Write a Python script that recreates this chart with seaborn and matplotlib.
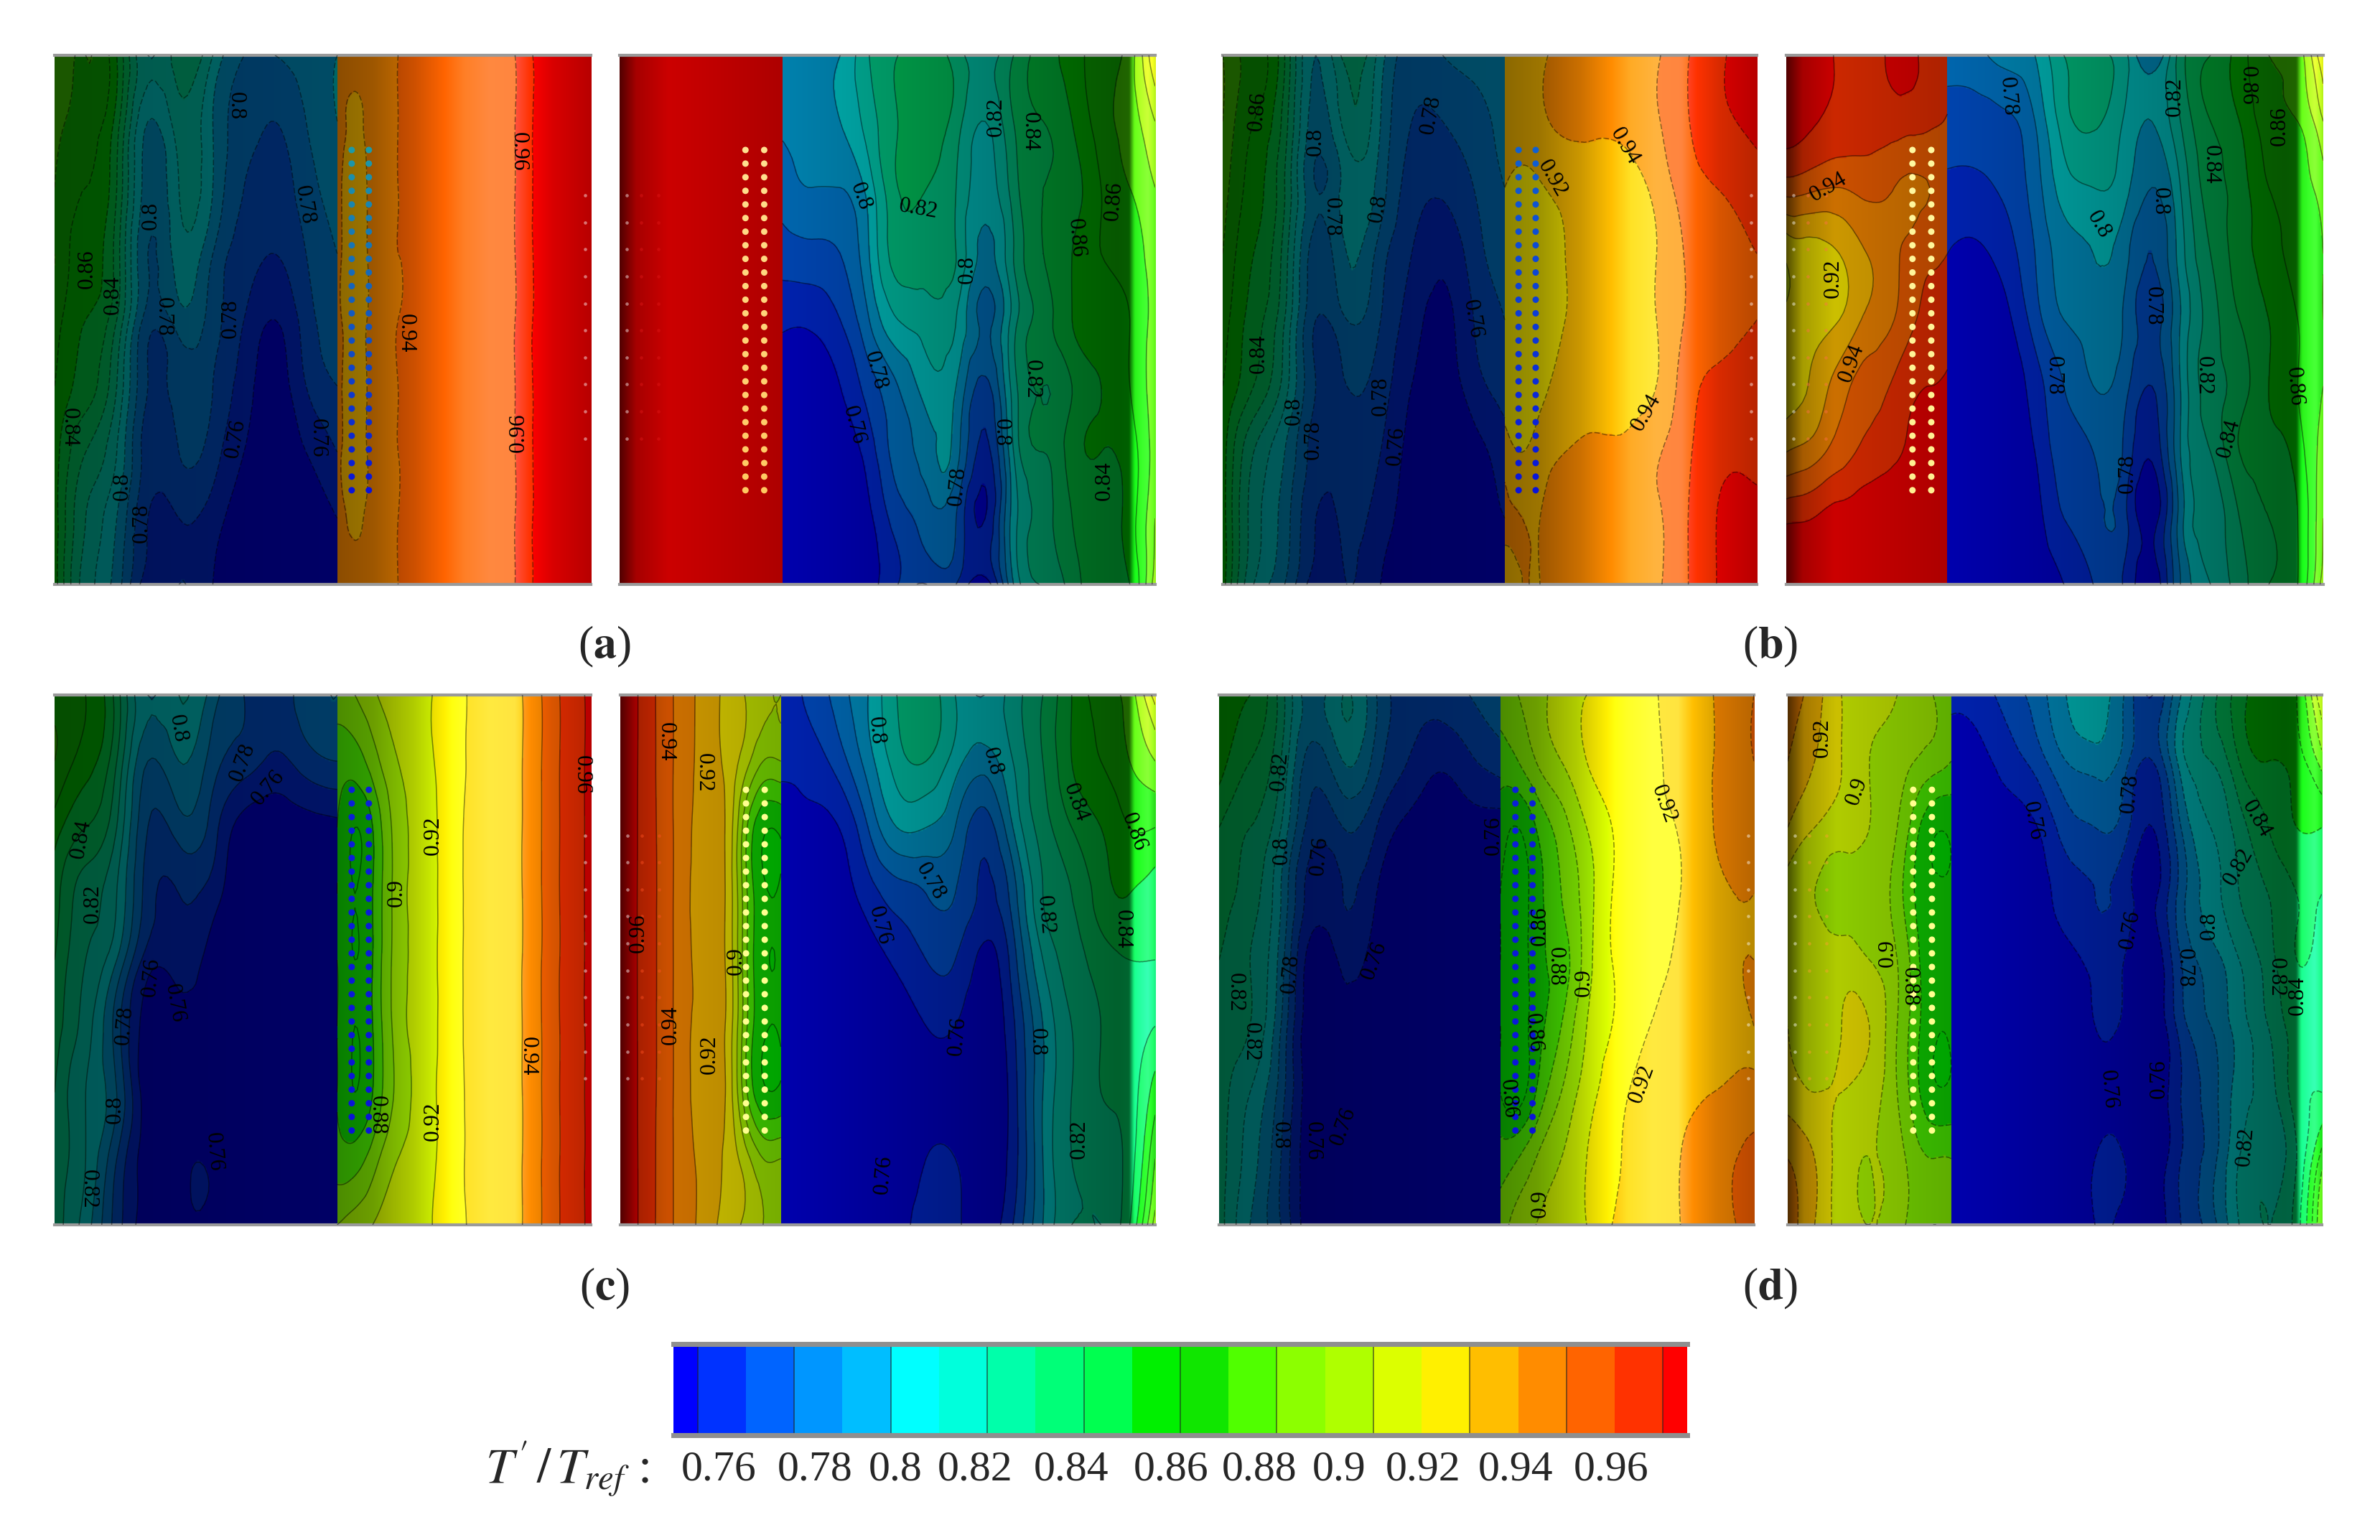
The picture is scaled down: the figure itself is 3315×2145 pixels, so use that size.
import warnings
warnings.filterwarnings("ignore")
import numpy as np
import seaborn as sns
import matplotlib
matplotlib.use("Agg")
import matplotlib.pyplot as plt
import matplotlib.tri as tri
from matplotlib.colors import ListedColormap, BoundaryNorm

sns.set_theme(style="white")
plt.rcParams['font.family'] = ['Liberation Serif', 'DejaVu Serif']
plt.rcParams['mathtext.fontset'] = 'stix'
plt.rcParams['lines.dashed_pattern'] = (5, 2)

W, H = 3315, 2145

# band colours of the legend, low to high
band_colors = ["#0000ff", "#0032ff", "#0064ff", "#0096ff", "#00beff", "#00ffff", "#00ffdc", "#00ffaa",
               "#00ff78", "#00ff50", "#00f000", "#10e600", "#50ff00", "#8cff00", "#afff00", "#dcff00",
               "#fff000", "#ffbe00", "#ff8c00", "#ff6400", "#ff3200", "#ff0000"]
fill_levels = [0.6, 0.76, 0.77, 0.78, 0.79, 0.8, 0.81, 0.82, 0.83, 0.84, 0.85, 0.86, 0.87, 0.88, 0.89,
               0.9, 0.91, 0.92, 0.93, 0.94, 0.95, 0.96, 1.1]
line_levels = fill_levels[1:-1]
legend_labels = ["0.76", "0.78", "0.8", "0.82", "0.84", "0.86", "0.88", "0.9", "0.92", "0.94", "0.96"]
legend_label_px = [1001, 1135, 1247, 1358, 1492, 1631, 1754, 1865, 1982, 2111, 2244]
legend_cells = [0, 1, 1, 2, 2, 3, 3, 4, 4, 5, 5, 6, 6, 7, 7, 8, 8, 9, 9, 10, 10, 11, 11, 12, 12, 13, 13, 14, 14,
                15, 15, 16, 16, 17, 17, 18, 18, 19, 19, 20, 20, 21]

# stations across each part of a blade view, 0-1 inside that part
x_left_suction = [0, .11, .22, .33, .44, .56, .67, .78, .89, 1]
x_left_pressure = [0, .07, .14, .24, .34, .44, .59, .71, .84, 1]
x_right_pressure = [0, .165, .33, .5, .67, .775, .89, 1]
x_right_suction = [0, .078, .155, .233, .31, .388, .466, .544, .62, .70, .777, .855, .932, 1]

# light across the surface: brightness factor and pale highlight at stations
light_x_left_suction = [0, .5, 1]
diffuse_left_suction = [.34, .37, .40]
spec_left_suction = [0, 0, 0]
light_x_left_pressure = [0, .14, .3, .42, .5, .6, .7, .76, .85, 1]
diffuse_left_pressure = [.55, .62, .8, 1.0, 1.1, 1.08, 1.05, 1.0, .85, .72]
spec_left_pressure = [0, 0, 0, 0, .15, .25, .25, 0, 0, 0]
light_x_right_pressure = [0, .1, .3, 1]
diffuse_right_pressure = [.32, .65, .8, .68]
spec_right_pressure = [0, 0, 0, 0]
light_x_right_suction = [0, .3, .6, .9, .93, .945, .98, 1]
diffuse_right_suction = [.68, .58, .48, .38, .40, 1.0, 1.05, .9]
spec_right_suction = [0, 0, 0, 0, 0, .1, .22, .1]

# left view, suction part, one row per span station top to bottom
a_ls = [[.875, .87, .85, .81, .825, .81, .79, .79, .795, .80],
        [.875, .865, .845, .80, .815, .80, .785, .78, .79, .80],
        [.87, .86, .84, .795, .81, .80, .78, .775, .785, .795],
        [.87, .855, .835, .79, .805, .79, .775, .77, .78, .79],
        [.865, .85, .83, .785, .795, .785, .77, .76, .775, .785],
        [.86, .845, .82, .78, .785, .78, .765, .755, .77, .78],
        [.855, .83, .81, .775, .78, .775, .76, .755, .76, .77],
        [.855, .82, .80, .77, .77, .765, .755, .755, .755, .76],
        [.855, .815, .795, .765, .77, .76, .755, .75, .75, .755]]
a_lp = [[.933, .932, .934, .94, .942, .946, .946, .951, .97, .97],
        [.933, .929, .933, .94, .942, .946, .946, .951, .97, .97],
        [.933, .926, .933, .94, .942, .946, .946, .951, .97, .97],
        [.933, .926, .933, .94, .942, .946, .946, .951, .97, .97],
        [.933, .926, .933, .94, .942, .946, .946, .951, .97, .97],
        [.933, .926, .933, .94, .942, .946, .946, .951, .97, .97],
        [.933, .926, .933, .94, .942, .946, .946, .951, .97, .97],
        [.933, .929, .933, .94, .942, .946, .946, .951, .97, .97],
        [.933, .932, .934, .94, .942, .946, .946, .951, .97, .97]]
a_rp = [[.975, .975, .975, .975, .975, .975, .975, .975],
        [.975, .975, .975, .975, .975, .975, .975, .975]]
# right view, suction part, one line per chord station, each top to bottom
a_rs = [[.795, .792, .785, .775, .762, .755, .752, .75, .75],
        [.797, .795, .79, .777, .762, .755, .75, .75, .75],
        [.80, .80, .79, .78, .77, .76, .755, .752, .75],
        [.82, .815, .805, .80, .79, .775, .765, .758, .755],
        [.83, .83, .83, .825, .81, .79, .785, .775, .77],
        [.835, .835, .83, .825, .815, .805, .795, .785, .77],
        [.825, .825, .82, .82, .81, .80, .795, .78, .77],
        [.815, .81, .805, .797, .787, .777, .767, .76, .755],
        [.83, .83, .825, .82, .815, .815, .81, .805, .80],
        [.845, .84, .84, .84, .835, .83, .83, .825, .82],
        [.855, .85, .845, .85, .85, .84, .845, .84, .835],
        [.865, .865, .86, .86, .855, .85, .85, .845, .845],
        [.875, .875, .87, .865, .86, .86, .855, .855, .85],
        [.91, .89, .88, .875, .875, .875, .875, .88, .885]]

b_ls = [[.88, .865, .84, .80, .825, .805, .785, .79, .795, .80],
        [.88, .86, .835, .795, .815, .80, .78, .78, .785, .795],
        [.875, .855, .83, .79, .805, .795, .775, .772, .78, .79],
        [.87, .85, .825, .785, .80, .785, .77, .763, .775, .785],
        [.865, .845, .82, .78, .79, .78, .765, .757, .77, .78],
        [.86, .84, .815, .78, .78, .775, .76, .755, .765, .775],
        [.855, .82, .80, .775, .775, .77, .757, .755, .757, .765],
        [.855, .815, .795, .77, .772, .765, .755, .75, .755, .76],
        [.855, .81, .79, .765, .77, .76, .755, .75, .75, .755]]
b_lp = [[.925, .925, .928, .933, .933, .933, .938, .948, .958, .965],
        [.925, .925, .928, .932, .932, .932, .938, .948, .957, .963],
        [.92, .917, .919, .923, .925, .925, .932, .944, .95, .955],
        [.915, .913, .915, .92, .925, .925, .929, .94, .947, .95],
        [.915, .913, .915, .92, .925, .925, .929, .94, .947, .95],
        [.915, .915, .917, .925, .926, .925, .929, .944, .952, .952],
        [.925, .92, .925, .93, .932, .932, .938, .947, .957, .955],
        [.932, .93, .93, .935, .936, .936, .938, .948, .96, .965],
        [.925, .93, .93, .935, .936, .936, .938, .948, .96, .965]]
b_rp = [[.968, .965, .959, .957, .962, .962, .956, .955],
        [.965, .961, .957, .955, .955, .954, .952, .949],
        [.945, .942, .94, .943, .94, .938, .94, .945],
        [.912, .915, .92, .93, .938, .943, .948, .95],
        [.912, .915, .92, .932, .94, .948, .952, .955],
        [.915, .922, .935, .945, .952, .958, .96, .962],
        [.93, .935, .945, .953, .958, .962, .965, .968],
        [.958, .96, .965, .968, .97, .97, .97, .97],
        [.97, .97, .97, .97, .97, .97, .97, .97]]
b_rs = [[.785, .775, .768, .76, .755, .75, .75, .75, .75],
        [.787, .775, .768, .758, .752, .75, .75, .75, .75],
        [.795, .778, .772, .765, .757, .752, .75, .75, .75],
        [.80, .79, .785, .78, .775, .765, .76, .755, .752],
        [.82, .815, .805, .795, .79, .78, .775, .77, .76],
        [.82, .822, .81, .80, .795, .79, .78, .775, .77],
        [.815, .81, .805, .795, .79, .785, .78, .775, .77],
        [.79, .80, .79, .78, .775, .77, .762, .755, .752],
        [.825, .82, .81, .805, .80, .80, .80, .795, .79],
        [.84, .84, .835, .83, .825, .825, .82, .815, .81],
        [.855, .85, .845, .845, .84, .835, .84, .83, .825],
        [.87, .865, .86, .855, .85, .85, .845, .84, .84],
        [.875, .87, .865, .865, .86, .86, .855, .85, .85],
        [.91, .89, .875, .87, .87, .87, .875, .88, .885]]

c_ls = [[.865, .86, .835, .80, .81, .795, .78, .775, .785, .79],
        [.87, .855, .83, .79, .80, .785, .775, .768, .775, .78],
        [.855, .84, .82, .78, .785, .775, .755, .752, .755, .757],
        [.845, .825, .81, .775, .77, .765, .75, .75, .75, .75],
        [.84, .82, .80, .765, .765, .755, .75, .75, .75, .75],
        [.835, .815, .785, .755, .755, .752, .75, .75, .75, .75],
        [.83, .81, .79, .753, .752, .75, .75, .75, .75, .75],
        [.825, .81, .78, .755, .757, .758, .75, .75, .75, .75],
        [.825, .805, .775, .755, .757, .757, .75, .75, .75, .75]]
c_lp = [[.885, .89, .898, .905, .908, .915, .923, .928, .945, .962],
        [.875, .875, .885, .90, .907, .915, .923, .928, .945, .962],
        [.87, .86, .87, .895, .905, .915, .923, .928, .945, .962],
        [.87, .86, .87, .895, .905, .915, .923, .928, .945, .962],
        [.87, .86, .87, .895, .905, .915, .923, .928, .945, .962],
        [.87, .86, .87, .895, .905, .915, .923, .928, .945, .962],
        [.87, .86, .87, .893, .905, .915, .923, .928, .945, .962],
        [.875, .875, .885, .90, .906, .915, .923, .928, .945, .962],
        [.89, .895, .90, .905, .908, .915, .923, .928, .945, .962]]
c_rp = [[.97, .955, .94, .928, .917, .91, .903, .90],
        [.97, .955, .94, .928, .917, .905, .89, .89],
        [.97, .955, .94, .928, .917, .885, .862, .862],
        [.97, .955, .94, .928, .917, .885, .862, .862],
        [.97, .955, .94, .928, .917, .885, .862, .862],
        [.97, .955, .94, .928, .917, .885, .862, .862],
        [.97, .955, .94, .928, .917, .885, .862, .862],
        [.97, .955, .94, .928, .917, .905, .89, .89],
        [.97, .955, .94, .928, .915, .908, .90, .90]]
c_rs = [[.768, .763, .755, .752, .75, .75, .75, .75, .75],
        [.772, .765, .757, .752, .75, .75, .75, .75, .75],
        [.785, .775, .76, .755, .75, .75, .75, .75, .75],
        [.80, .795, .78, .765, .755, .752, .75, .75, .75],
        [.82, .815, .80, .775, .762, .755, .752, .752, .755],
        [.825, .82, .80, .78, .77, .76, .755, .76, .765],
        [.81, .805, .79, .78, .77, .76, .752, .76, .762],
        [.80, .795, .775, .768, .757, .752, .75, .753, .755],
        [.815, .81, .80, .785, .775, .768, .765, .765, .77],
        [.83, .83, .825, .82, .81, .80, .80, .80, .80],
        [.85, .85, .84, .83, .825, .82, .82, .82, .82],
        [.865, .86, .85, .845, .835, .83, .83, .825, .82],
        [.875, .87, .86, .85, .84, .835, .835, .835, .84],
        [.905, .88, .86, .845, .84, .84, .855, .87, .885]]

d_ls = [[.86, .85, .825, .795, .81, .79, .775, .775, .78, .785],
        [.855, .84, .82, .785, .80, .785, .77, .762, .768, .775],
        [.84, .83, .81, .775, .78, .77, .757, .752, .755, .755],
        [.835, .825, .80, .765, .77, .76, .75, .75, .75, .75],
        [.83, .82, .795, .755, .762, .755, .75, .75, .75, .75],
        [.825, .82, .79, .752, .755, .75, .75, .75, .75, .75],
        [.825, .81, .785, .752, .75, .75, .75, .75, .75, .75],
        [.825, .805, .78, .752, .753, .757, .75, .75, .75, .75],
        [.825, .80, .78, .752, .755, .757, .75, .75, .75, .75]]
d_lp = [[.885, .89, .895, .905, .91, .912, .918, .925, .93, .94],
        [.875, .88, .89, .90, .91, .915, .917, .925, .93, .94],
        [.865, .86, .87, .885, .90, .91, .917, .921, .93, .932],
        [.86, .855, .865, .88, .895, .91, .916, .92, .928, .93],
        [.86, .855, .865, .875, .895, .91, .917, .922, .928, .93],
        [.86, .855, .865, .88, .90, .91, .92, .925, .928, .93],
        [.86, .855, .87, .89, .905, .915, .925, .928, .93, .932],
        [.875, .88, .89, .90, .91, .918, .925, .93, .935, .945],
        [.885, .895, .90, .905, .91, .92, .925, .93, .935, .945]]
d_rp = [[.935, .925, .91, .905, .90, .895, .89, .885],
        [.93, .92, .91, .90, .895, .89, .885, .88],
        [.92, .91, .905, .90, .89, .875, .862, .862],
        [.905, .90, .895, .895, .885, .87, .862, .862],
        [.905, .905, .905, .90, .89, .875, .862, .862],
        [.91, .905, .91, .91, .89, .875, .862, .862],
        [.915, .91, .91, .905, .89, .875, .862, .862],
        [.93, .92, .905, .90, .895, .885, .88, .88],
        [.935, .92, .905, .90, .895, .885, .88, .88]]
d_rs = [[.762, .755, .75, .75, .75, .75, .75, .75, .75],
        [.765, .757, .752, .75, .75, .75, .75, .75, .75],
        [.775, .765, .755, .752, .75, .75, .75, .75, .75],
        [.785, .775, .76, .755, .752, .75, .75, .75, .75],
        [.80, .79, .775, .765, .757, .752, .75, .752, .752],
        [.805, .795, .78, .77, .763, .76, .755, .76, .76],
        [.79, .785, .775, .765, .76, .757, .752, .76, .757],
        [.77, .77, .76, .757, .752, .75, .75, .752, .752],
        [.80, .805, .79, .785, .78, .775, .77, .77, .77],
        [.825, .82, .81, .805, .795, .79, .785, .785, .785],
        [.845, .84, .825, .82, .81, .805, .805, .81, .81],
        [.855, .85, .84, .83, .825, .82, .815, .815, .82],
        [.86, .855, .85, .84, .84, .835, .835, .83, .835],
        [.90, .875, .85, .84, .835, .835, .84, .865, .88]]

# contour labels: text, x and y read in reference crop units, rotation
a_labels = [("0.8", 265, 170, -90), ("0.8", 148, 470, 90), ("0.86", 60, 615, 90), ("0.84", 95, 685, 90),
            ("0.78", 165, 745, -90), ("0.78", 360, 440, -80), ("0.78", 258, 750, 90), ("0.94", 500, 790, -90),
            ("0.96", 655, 295, -90), ("0.96", 655, 1060, 90), ("0.84", 35, 1045, -90), ("0.76", 265, 1075, 80),
            ("0.76", 378, 1075, -90), ("0.8", 108, 1205, 90), ("0.78", 135, 1305, 90),
            ("0.8", 1128, 418, -70), ("0.82", 1208, 452, -10), ("0.82", 1315, 200, 90), ("0.84", 1362, 240, -90),
            ("0.86", 1478, 430, 85), ("0.86", 1425, 530, -85), ("0.8", 1275, 615, 90), ("0.78", 1148, 890, -75),
            ("0.82", 1365, 915, -90), ("0.76", 1118, 1040, -75), ("0.8", 1322, 1060, -90), ("0.78", 1262, 1205, 85),
            ("0.84", 1465, 1190, 90)]
b_labels = [("0.86", 58, 185, 85), ("0.8", 138, 268, 90), ("0.78", 298, 195, 80), ("0.78", 160, 472, -90),
            ("0.8", 225, 450, 80), ("0.92", 465, 368, -60), ("0.94", 565, 280, -60), ("0.76", 355, 750, -80),
            ("0.84", 60, 845, 90), ("0.78", 228, 960, 90), ("0.94", 595, 1005, 60), ("0.8", 108, 1000, 90),
            ("0.78", 135, 1080, 90), ("0.76", 250, 1095, 85),
            ("0.78", 1095, 145, -85), ("0.94", 848, 392, 30), ("0.82", 1325, 145, 90), ("0.86", 1425, 115, -90),
            ("0.86", 1470, 225, 90), ("0.84", 1375, 330, -90), ("0.8", 1305, 430, -90), ("0.8", 1220, 495, -60),
            ("0.92", 855, 640, 90), ("0.78", 1295, 715, -90), ("0.94", 880, 870, 70), ("0.78", 1158, 905, -90),
            ("0.82", 1365, 905, -90), ("0.86", 1490, 935, -85), ("0.84", 1400, 1075, 75), ("0.78", 1260, 1170, 90)]
c_labels = [("0.8", 185, 125, -80), ("0.78", 275, 215, 70), ("0.76", 310, 285, 50), ("0.84", 52, 425, 80),
            ("0.82", 68, 600, 90), ("0.76", 148, 800, 85), ("0.76", 180, 870, -80), ("0.78", 112, 930, 85),
            ("0.8", 98, 1160, 90), ("0.76", 235, 1275, -85), ("0.82", 62, 1375, -90), ("0.92", 537, 415, 90),
            ("0.9", 487, 570, 90), ("0.88", 460, 1175, -90), ("0.92", 537, 1190, 90), ("0.94", 668, 1015, -90),
            ("0.96", 742, 250, -90),
            ("0.94", 860, 160, -90), ("0.92", 912, 245, -90), ("0.96", 822, 680, 90), ("0.9", 957, 755, 90),
            ("0.94", 867, 930, 90), ("0.92", 920, 1010, 90), ("0.8", 1150, 130, -85), ("0.8", 1310, 215, -75),
            ("0.84", 1425, 325, -70), ("0.86", 1505, 405, -70), ("0.78", 1225, 540, -60), ("0.76", 1155, 660, -75),
            ("0.82", 1383, 630, -85), ("0.84", 1490, 670, -90), ("0.76", 1262, 960, 85), ("0.8", 1372, 975, -90),
            ("0.82", 1430, 1240, 90), ("0.76", 1160, 1335, 85)]
d_labels = [("0.82", 90, 240, 85), ("0.8", 93, 455, 90), ("0.76", 145, 470, 85), ("0.76", 385, 415, 90),
            ("0.76", 220, 755, 70), ("0.78", 105, 790, 85), ("0.82", 28, 840, -90), ("0.82", 50, 975, -90),
            ("0.8", 90, 1230, -90), ("0.76", 135, 1245, -90), ("0.76", 178, 1205, 70), ("0.92", 620, 330, -70),
            ("0.86", 450, 660, 90), ("0.88", 470, 770, -90), ("0.9", 510, 815, 90), ("0.86", 440, 950, -85),
            ("0.92", 590, 1090, 70), ("0.86", 405, 1130, -85), ("0.9", 450, 1415, 90),
            ("0.92", 840, 150, 90), ("0.9", 888, 295, 70), ("0.9", 930, 735, 90), ("0.88", 960, 825, -90),
            ("0.76", 1130, 375, -80), ("0.78", 1265, 300, 85), ("0.84", 1440, 370, -60), ("0.82", 1415, 500, 60),
            ("0.76", 1265, 670, 80), ("0.8", 1375, 660, 90), ("0.78", 1340, 775, -90), ("0.82", 1467, 800, -90),
            ("0.84", 1497, 850, 90), ("0.76", 1235, 1105, -85), ("0.76", 1305, 1075, 90), ("0.82", 1425, 1260, 85)]

band_cmap = ListedColormap(band_colors)
band_norm = BoundaryNorm(fill_levels, len(band_colors))

fig = plt.figure(figsize=(W / 100, H / 100), dpi=100, facecolor="white")


def px_axes(x0, x1, y0, y1):
    return fig.add_axes([x0 / W, 1 - y1 / H, (x1 - x0) / W, (y1 - y0) / H])


def draw_part(ax, x0, x1, xs, vals, lx, diffuse, spec, style):
    vals = np.array(vals)
    px = x0 + np.array(xs) * (x1 - x0)
    py = np.linspace(1, 0, vals.shape[0])
    X, Y = np.meshgrid(px, py)
    t = tri.Triangulation(X.ravel(), Y.ravel())

    # colour the bands on a fine raster, then apply the surface light
    xx = np.linspace(x0 + 1e-6, x1 - 1e-6, 320)
    yy = np.linspace(1 - 1e-6, 1e-6, 320)
    zz = tri.CubicTriInterpolator(t, vals.ravel())(*np.meshgrid(xx, yy))
    rgb = band_cmap(band_norm(np.ma.filled(zz, vals.mean())))[..., :3]
    lx = x0 + np.array(lx) * (x1 - x0)
    d = np.interp(xx, lx, diffuse)
    s = np.interp(xx, lx, spec)
    rgb = rgb * d[None, :, None]
    rgb[..., 0] += s
    rgb[..., 1] += .45 * s
    rgb[..., 2] += s
    ax.imshow(np.clip(rgb, 0, 1), extent=(x0, x1, 0, 1), aspect="auto", interpolation="bilinear", zorder=1)

    rt, rz = tri.UniformTriRefiner(t).refine_field(vals.ravel(), subdiv=3)
    ax.tricontour(rt, rz, levels=line_levels, colors="black", linewidths=1.1, alpha=.45, linestyles=style, zorder=3)


def finish_axes(ax):
    ax.set_xlim(0, 1)
    ax.set_ylim(0, 1)
    ax.set_xticks([])
    ax.set_yticks([])
    for name, spine in ax.spines.items():
        spine.set_visible(name in ("top", "bottom"))
        spine.set_color("#9a9a9a")
        spine.set_linewidth(3)


def holes(ax, x_list, top, bottom):
    ys = np.linspace(.821, .178, 26)
    for xh in x_list:
        sns.scatterplot(x=[xh] * 26, y=ys, hue=ys, palette=sns.blend_palette([bottom, top], 26),
                        s=42, linewidth=0, legend=False, ax=ax, zorder=4)


def edge_marks(ax, x_list, color, alpha):
    ys = np.linspace(.735, .276, 10)
    for xm in x_list:
        sns.scatterplot(x=[xm] * 10, y=ys, color=color, alpha=alpha, s=11, linewidth=0, legend=False, ax=ax, zorder=4)


# one entry per case: tables, pixel box of both views, crop-unit ranges for the labels
cases = [
    (a_ls, a_lp, a_rp, a_rs, a_labels, (76, 823), (863, 1609), (77, 814), (15, 755), (795, 1535), .527, .304,
     ("#1c9aa8", "#0a14d8"), ("#ffe090", "#ffc860"), "#e01818", ("dashed", "solid")),
    (b_ls, b_lp, b_rp, b_rs, b_labels, (1703, 2447), (2488, 3236), (77, 814), (10, 748), (790, 1530), .528, .30,
     ("#1060d0", "#0a14d8"), ("#fff8a0", "#fff090"), "#ff7048", ("dashed", "solid")),
    (c_ls, c_lp, c_rp, c_rs, c_labels, (76, 823), (864, 1609), (968, 1706), (15, 755), (797, 1535), .527, .30,
     ("#0a20d8", "#0a14d8"), ("#ffff90", "#ffff90"), "#ff5020", ("solid", "solid")),
    (d_ls, d_lp, d_rp, d_rs, d_labels, (1698, 2443), (2490, 3234), (968, 1706), (6, 745), (792, 1530), .526, .306,
     ("#0a20d8", "#0a14d8"), ("#ffff90", "#ffff90"), "#ffa030", ("dashed", "dashed")),
]

for ls, lp, rp, rs, labels, left_px, right_px, y_px, left_crop, right_crop, split_l, split_r, dots_l, dots_r, spot, styles in cases:
    ax_l = px_axes(left_px[0], left_px[1], y_px[0], y_px[1])
    ax_r = px_axes(right_px[0], right_px[1], y_px[0], y_px[1])

    draw_part(ax_l, 0, split_l, x_left_suction, ls, light_x_left_suction, diffuse_left_suction, spec_left_suction, styles[0])
    draw_part(ax_l, split_l, 1, x_left_pressure, lp, light_x_left_pressure, diffuse_left_pressure, spec_left_pressure, styles[0])
    draw_part(ax_r, 0, split_r, x_right_pressure, rp, light_x_right_pressure, diffuse_right_pressure, spec_right_pressure, styles[1])
    draw_part(ax_r, split_r, 1, x_right_suction, np.array(rs).T, light_x_right_suction, diffuse_right_suction, spec_right_suction, styles[1])

    holes(ax_l, [.554, .586], dots_l[0], dots_l[1])
    holes(ax_r, [.235, .270], dots_r[0], dots_r[1])
    edge_marks(ax_l, [.989], "white", .45)
    edge_marks(ax_r, [.013], "white", .45)
    edge_marks(ax_r, [.04, .073], spot, .45)

    for text, cx, cy, rot in labels:
        crop = left_crop if cx <= left_crop[1] else right_crop
        ax = ax_l if cx <= left_crop[1] else ax_r
        ax.text((cx - crop[0]) / (crop[1] - crop[0]), 1 - (cy - 33) / 1439, text, rotation=rot, fontsize=22.5,
                ha="center", va="center", color="black", zorder=5, rotation_mode="anchor")
    finish_axes(ax_l)
    finish_axes(ax_r)

# legend strip
ax_bar = px_axes(938, 2350, 1872, 1999)
sns.heatmap([legend_cells], ax=ax_bar, cmap=band_cmap, vmin=-.5, vmax=21.5, cbar=False,
            xticklabels=False, yticklabels=False)
for k in range(len(legend_labels)):
    ax_bar.axvline(1 + 4 * k, color="#222222", alpha=.6, lw=1.3)
for spine_name in ("top", "bottom"):
    ax_bar.spines[spine_name].set_visible(True)
    ax_bar.spines[spine_name].set_color("#8f8f8f")
    ax_bar.spines[spine_name].set_linewidth(5)

for text, px in zip(legend_labels, legend_label_px):
    fig.text(px / W, 1 - 2048 / H, text, fontsize=43, ha="center", va="center")
fig.text(790 / W, 1 - 2046 / H, r"$T'\,/\,T_{ref}$ :", fontsize=50, ha="center", va="center")

for text, px, py in [("a", 842, 901), ("b", 2466, 901), ("c", 842, 1795), ("d", 2466, 1795)]:
    fig.text(px / W, 1 - py / H, "($\\mathbf{" + text + "}$)", fontsize=46, ha="center", va="center")

fig.savefig("out.png", dpi=100, facecolor="white")
